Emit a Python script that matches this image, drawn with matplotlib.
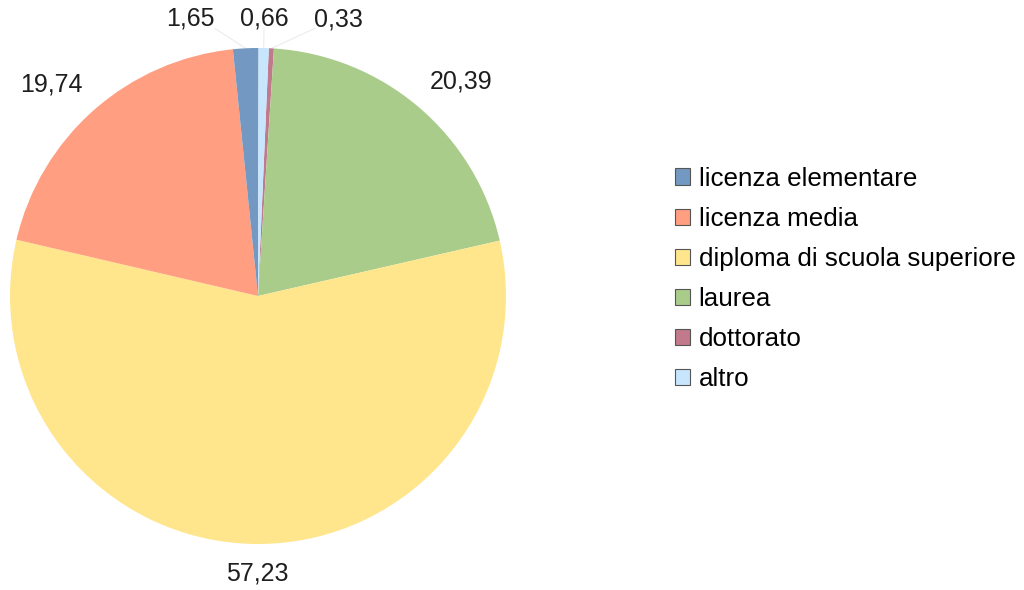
import numpy as np
import matplotlib.pyplot as plt
from matplotlib.patches import Patch

plt.rcParams['font.family'] = ['Liberation Sans', 'DejaVu Sans']

categories = ['licenza elementare', 'licenza media', 'diploma di scuola superiore',
              'laurea', 'dottorato', 'altro']
values = [1.65, 19.74, 57.23, 20.39, 0.33, 0.66]
colors = ['#7398c1', '#ff9e81', '#ffe68d', '#a9cc8b', '#c07a8b', '#c7e5fd']
label_text = ['1,65', '19,74', '57,23', '20,39', '0,33', '0,66']

# slices go clockwise from just right of the top in this order
pie_order = [4, 3, 2, 1, 0, 5]
# horizontal shifts so the three thin slices don't overlap their labels
nudge = {0: -0.12, 5: 0.0, 4: 0.17}

fig = plt.figure(figsize=(10.24, 5.90), dpi=100)
ax = fig.add_axes([0, 0, 1, 1])

R = 248.0
cx, cy = 258.0, 296.0
wedges, _ = ax.pie([values[i] for i in pie_order],
                   colors=[colors[i] for i in pie_order],
                   startangle=87.5, counterclock=False, radius=1.0,
                   wedgeprops=dict(linewidth=0))
ax.set_xlim(-cx / R, (1024 - cx) / R)
ax.set_ylim((cy - 590) / R, cy / R)
ax.set_aspect('auto')
ax.axis('off')

r_lab = 1.07
for w, i in zip(wedges, pie_order):
    mid = np.deg2rad((w.theta1 + w.theta2) / 2)
    x, y = r_lab * np.cos(mid), r_lab * np.sin(mid)
    if i in nudge:
        x += nudge[i]
        ha = {0: 'right', 5: 'center', 4: 'left'}[i]
        ax.plot([np.cos(mid), x], [np.sin(mid), y + 0.01],
                color='#ececec', lw=0.8, zorder=0)
    elif abs(np.cos(mid)) < 0.1:
        ha = 'center'
    else:
        ha = 'left' if x > 0 else 'right'
    va = 'bottom' if y > 0 else 'top'
    ax.text(x, y, label_text[i], ha=ha, va=va, fontsize=18, color='#1e1e1e')

handles = [Patch(facecolor=c, edgecolor='#555555', linewidth=0.8) for c in colors]
fig.legend(handles, categories, loc='center left',
           bbox_to_anchor=(675 / 1024, 1 - 279 / 590),
           frameon=False, fontsize=18.7, handlelength=0.58, handleheight=0.58,
           handletextpad=0.33, labelspacing=0.62, borderpad=0, borderaxespad=0)

fig.savefig('out.png', dpi=100)
